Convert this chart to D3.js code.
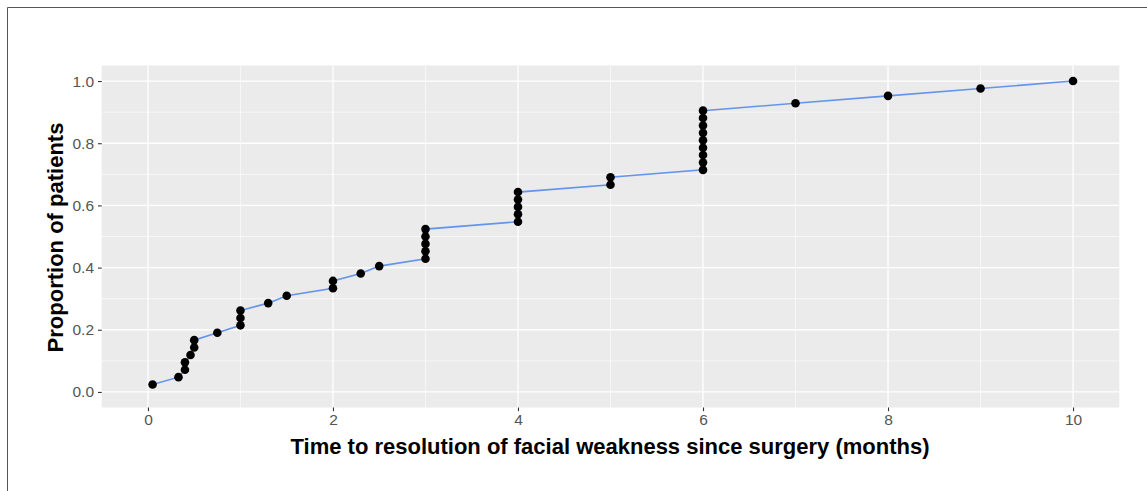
<!DOCTYPE html>
<html><head><meta charset="utf-8">
<script src="https://cdn.jsdelivr.net/npm/d3@7"></script>
<style>body{margin:0;background:#fff;}svg{display:block;font-family:"Liberation Sans",Arial,sans-serif;}</style>
</head><body>
<svg id="c" width="1147" height="491"></svg>
<script>
// Time (months) to resolution for each patient, sorted
const months = [0.05,0.33,0.4,0.4,0.46,0.5,0.5,0.75,1,1,1,1.3,1.5,2,2,2.3,2.5,3,3,3,3,3,4,4,4,4,4,5,5,6,6,6,6,6,6,6,6,6,7,8,9,10];
const nPatients = 42;
const proportion = months.map((m,i)=> (i+1)/nPatients);
const xTicks = [0,2,4,6,8,10];
const xMinor = [1,3,5,7,9];
const yTicks = [0,0.2,0.4,0.6,0.8,1.0];
const yMinor = [0.1,0.3,0.5,0.7,0.9];
const xTitle = "Time to resolution of facial weakness since surgery (months)";
const yTitle = "Proportion of patients";

const svg = d3.select("#c");
const P = {l:101.7, r:1119.3, t:65.5, b:407.5};
const x = d3.scaleLinear().domain([-0.5,10.5]).range([P.l,P.r]);
const y = d3.scaleLinear().domain([-0.05,1.05]).range([P.b,P.t]);

// border of figure
svg.append("path").attr("d","M7.5,491 V7.5 H1147").attr("fill","none").attr("stroke","#555").attr("stroke-width",1);

svg.append("rect").attr("x",P.l).attr("y",P.t).attr("width",P.r-P.l).attr("height",P.b-P.t).attr("fill","#EBEBEB");
const g = svg.append("g");
g.selectAll(".xm").data(xMinor).join("line").attr("x1",d=>x(d)).attr("x2",d=>x(d)).attr("y1",P.t).attr("y2",P.b).attr("stroke","#fff").attr("stroke-width",0.6);
g.selectAll(".ym").data(yMinor).join("line").attr("y1",d=>y(d)).attr("y2",d=>y(d)).attr("x1",P.l).attr("x2",P.r).attr("stroke","#fff").attr("stroke-width",0.6);
g.selectAll(".xM").data(xTicks).join("line").attr("x1",d=>x(d)).attr("x2",d=>x(d)).attr("y1",P.t).attr("y2",P.b).attr("stroke","#fff").attr("stroke-width",1.3);
g.selectAll(".yM").data(yTicks).join("line").attr("y1",d=>y(d)).attr("y2",d=>y(d)).attr("x1",P.l).attr("x2",P.r).attr("stroke","#fff").attr("stroke-width",1.3);

// axes
const xa = svg.append("g").attr("transform",`translate(0,${P.b})`)
  .call(d3.axisBottom(x).tickValues(xTicks).tickFormat(d3.format("d")).tickSize(3.7).tickPadding(3));
const ya = svg.append("g").attr("transform",`translate(${P.l},0)`)
  .call(d3.axisLeft(y).tickValues(yTicks).tickFormat(d3.format(".1f")).tickSize(3.7).tickPadding(4));
[xa,ya].forEach(a=>{
  a.select(".domain").remove();
  a.selectAll(".tick line").attr("stroke","#333").attr("stroke-width",1.1);
  a.selectAll(".tick text").attr("fill","#555").style("font-size","15.5px").style("font-family","'Liberation Sans',Arial,sans-serif");
});

// line & points
const data = months.map((m,i)=>({x:m,y:proportion[i]}));
svg.append("path").datum(data).attr("fill","none").attr("stroke","#6495ED").attr("stroke-width",1.6)
  .attr("d",d3.line().x(d=>x(d.x)).y(d=>y(d.y)));
svg.selectAll(".pt").data(data).join("circle").attr("cx",d=>x(d.x)).attr("cy",d=>y(d.y)).attr("r",4.3).attr("fill","#000");

// titles
svg.append("text").attr("x",610).attr("y",446).attr("dy","0.36em").attr("text-anchor","middle")
  .style("font-size","22px").style("font-weight","bold").attr("fill","#000").text(xTitle);
svg.append("text").attr("transform",`translate(55,237.5) rotate(-90)`).attr("dy","0.36em").attr("text-anchor","middle")
  .style("font-size","22px").style("font-weight","bold").attr("fill","#000").text(yTitle);
</script>
</body></html>
